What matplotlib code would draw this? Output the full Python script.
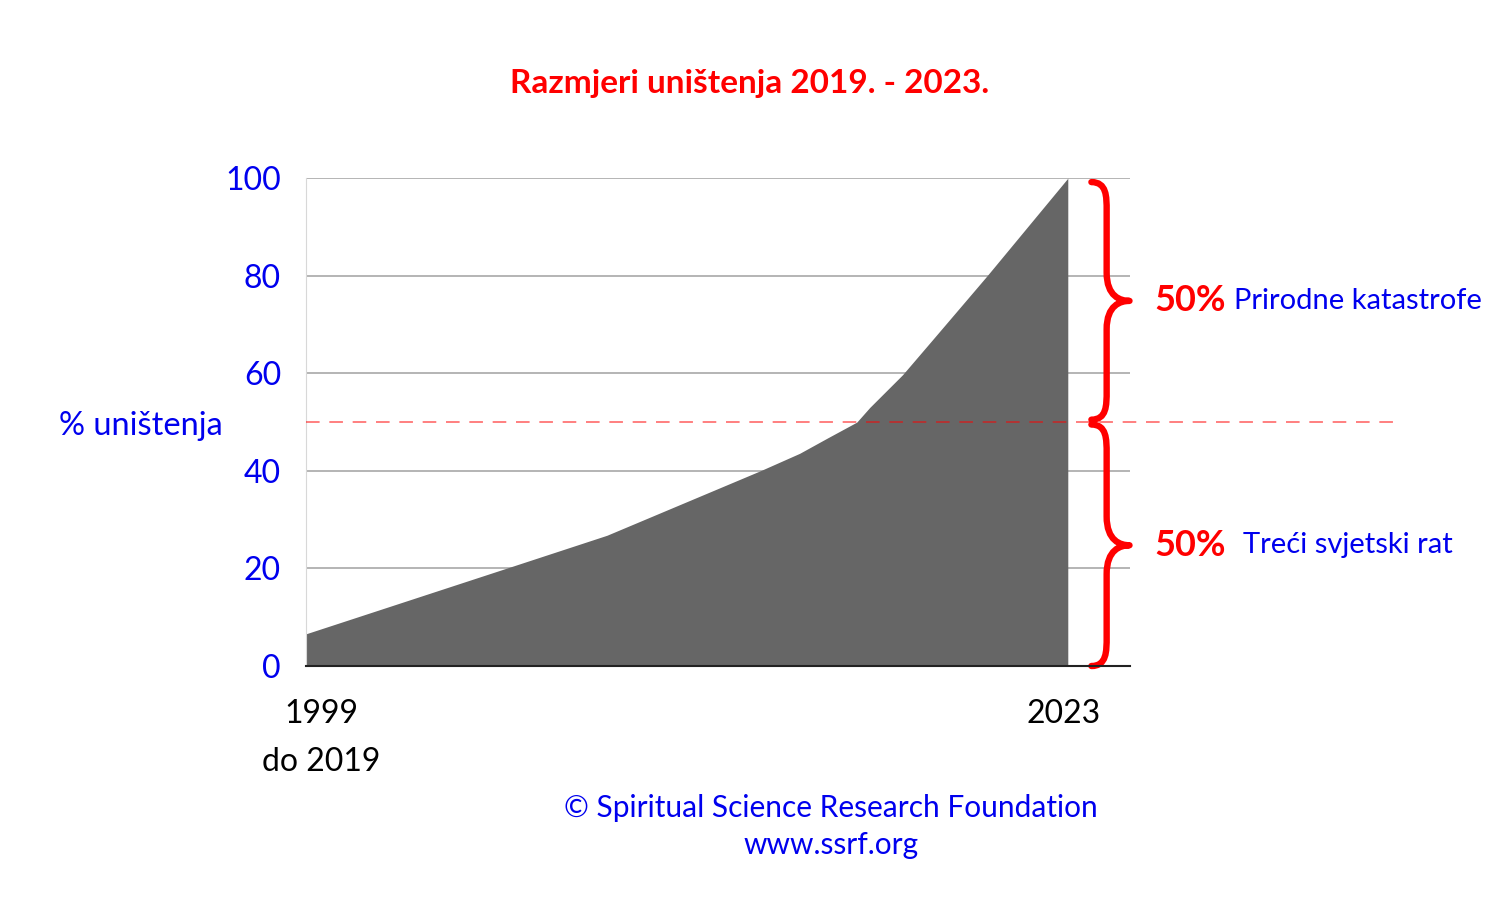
import matplotlib
matplotlib.use("Agg")
import matplotlib.pyplot as plt
from matplotlib.path import Path
from matplotlib.patches import PathPatch

# data (x on a 0..100 scale, 100 = 2023)
x_pos = [0, 27.2, 39.5, 59.6, 64.8, 68.4, 72.3, 74.0, 78.3, 82.3, 89.4, 100]
destruction = [6.6, 20.5, 26.8, 40.0, 43.6, 46.7, 50.0, 53.0, 59.7, 67.0, 80.0, 100]
y_ticks = [0, 20, 40, 60, 80, 100]
x_ticks = [2, 99.5]
x_labels = ["1999\ndo 2019", "2023"]
split_level = 50
brace_labels = [("50%", "Prirodne katastrofe"), ("50%", "Treći svjetski rat")]
label_x = [121.8, 123.0]

plt.rcParams["font.family"] = ["Lato", "DejaVu Sans"]
BLUE = "#0000ee"
RED = "#ff0000"

fig = plt.figure(figsize=(15, 9), dpi=100)
ax = fig.add_axes([0.204, 0.26, 0.549, 0.542])

ax.fill_between(x_pos, destruction, 0, color="#666666", linewidth=0)
ax.set_xlim(0, 108.1)
ax.set_ylim(0, 100)

ax.set_yticks(y_ticks)
ax.set_yticklabels([str(v) for v in y_ticks], color=BLUE, fontsize=23)
ax.yaxis.grid(True, color="#a8a8a8", linewidth=1.2)
ax.set_axisbelow(True)
ax.tick_params(axis="y", length=0, pad=18)

ax.set_xticks(x_ticks)
ax.set_xticklabels(x_labels, fontsize=23, linespacing=1.75, va="top")
ax.tick_params(axis="x", length=0, pad=24)

for s in ["top", "right"]:
    ax.spines[s].set_visible(False)
ax.spines["left"].set_color("#d8d8d8")
ax.spines["bottom"].set_color("#222222")
ax.spines["bottom"].set_linewidth(1.5)

# dashed 50% line, semi-transparent, runs past the plot area
ax.plot([0, 143.3], [split_level, split_level], color=RED, alpha=0.5, lw=1.4,
        dashes=(7, 5), clip_on=False, zorder=3)


def brace(y0, y1, x_end=103.1, x_mid=105.1, x_tip=108.1):
    ym = (y0 + y1) / 2
    h = (y1 - y0)
    c = h * 0.06
    verts = [
        (x_end, y0),
        (x_mid, y0), (x_mid, y0 + c), (x_mid, y0 + 2 * c),
        (x_mid, ym - 2 * c),
        (x_mid, ym - 0.3 * c), (x_tip - 1.2, ym), (x_tip, ym),
        (x_tip - 1.2, ym), (x_mid, ym + 0.3 * c), (x_mid, ym + 2 * c),
        (x_mid, y1 - 2 * c),
        (x_mid, y1 - c), (x_mid, y1), (x_end, y1),
    ]
    codes = [Path.MOVETO,
             Path.CURVE4, Path.CURVE4, Path.CURVE4,
             Path.LINETO,
             Path.CURVE4, Path.CURVE4, Path.CURVE4,
             Path.CURVE4, Path.CURVE4, Path.CURVE4,
             Path.LINETO,
             Path.CURVE4, Path.CURVE4, Path.CURVE4]
    p = PathPatch(Path(verts, codes), facecolor="none", edgecolor=RED,
                  lw=4.6, clip_on=False, capstyle="round", joinstyle="round")
    ax.add_patch(p)
    return ym


for (pct, label), lx, (y0, y1) in zip(brace_labels, label_x,
                                      [(50.5, 99.2), (0, 49.5)]):
    ym = brace(y0, y1)
    ax.text(111.4, ym, pct, color=RED, fontsize=26, fontweight="bold",
            va="center", ha="left", clip_on=False)
    ax.text(lx, ym, label, color=BLUE, fontsize=21, va="center", ha="left",
            clip_on=False)

fig.text(0.5, 0.907, "Razmjeri uništenja 2019. - 2023.", color=RED,
         fontsize=24, fontweight="bold", ha="center", va="center")
fig.text(0.094, 0.527, "% uništenja", color=BLUE, fontsize=23.5,
         ha="center", va="center")
fig.text(0.554, 0.102, "© Spiritual Science Research Foundation", color=BLUE,
         fontsize=21.5, ha="center", va="center")
fig.text(0.554, 0.061, "www.ssrf.org", color=BLUE, fontsize=21.5,
         ha="center", va="center")

fig.savefig("out.png", dpi=100, facecolor="white")
